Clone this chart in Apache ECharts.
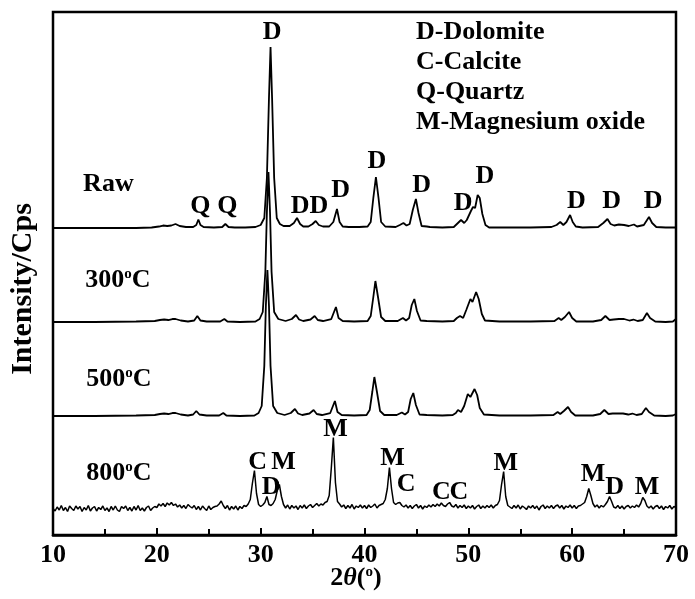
<!DOCTYPE html>
<html>
<head>
    <meta charset="utf-8">
    <title></title>
    <style type="text/css">
        body { margin: 0; background: #fff; }
        #main { width: 695px; height: 599px; }
    </style>
</head>
<body>
<div id="main"></div>

<script type="text/javascript" src="https://cdn.jsdelivr.net/npm/echarts@6/dist/echarts.min.js"></script>
<script type="text/javascript">
    // [2theta, counts], counts above each pattern's own baseline
    var xrdRaw = [
        [10,0],[12,2],[14,0],[16,2],[18,0],[19.5,5],[20.2,15],[20.6,25],[21.0,20],[21.4,25],[21.8,40],[22.2,20],
        [22.8,10],[23.5,10],[23.8,30],[24.0,85],[24.2,30],[24.5,10],[25.5,5],[26.3,10],[26.6,40],[26.9,10],
        [27.5,5],[28.5,5],[29.5,10],[30.0,30],[30.35,100],[30.6,500],[30.8,1300],[30.95,1810],[31.1,1300],
        [31.3,500],[31.55,100],[31.85,40],[32.2,20],[32.8,20],[33.2,50],[33.5,100],[33.8,40],[34.1,15],
        [34.6,15],[35.0,40],[35.3,70],[35.6,30],[36.0,15],[36.6,15],[37.0,60],[37.35,190],[37.6,60],[37.9,15],
        [38.5,10],[39.5,10],[40.3,15],[40.6,60],[40.85,300],[41.1,510],[41.35,300],[41.6,60],[42.0,15],
        [43.0,10],[43.4,30],[43.75,50],[44.05,25],[44.35,40],[44.65,180],[44.95,290],[45.2,150],[45.5,20],
        [46.0,15],[46.3,10],[47.5,5],[48.6,10],[49.0,50],[49.3,80],[49.6,50],[49.85,80],[50.25,170],[50.45,210],
        [50.65,200],[50.9,330],[51.1,300],[51.35,140],[51.65,30],[52.0,5],[54,5],[56,5],[58.0,10],[58.5,30],
        [58.85,60],[59.15,30],[59.45,60],[59.8,130],[60.05,60],[60.35,15],[61.0,5],[62.5,10],[63.0,50],
        [63.4,90],[63.7,40],[64.05,25],[64.5,35],[65.0,30],[65.45,20],[65.95,35],[66.25,15],[66.9,30],
        [67.4,110],[67.7,50],[68.1,10],[69.0,5],[70,5]
    ];
    var xrd300 = [
        [10,0],[14,0],[18,5],[19.8,10],[20.3,20],[20.7,25],[21.1,20],[21.5,30],[21.8,30],[22.3,15],[23.0,5],
        [23.6,15],[23.9,60],[24.2,15],[24.8,5],[26.1,5],[26.5,30],[26.8,5],[28,0],[29.5,5],[29.9,30],
        [30.2,100],[30.45,500],[30.6,1100],[30.75,1500],[30.9,1100],[31.05,500],[31.3,100],[31.7,30],
        [32.4,10],[33.0,30],[33.4,70],[33.7,25],[34.1,10],[34.8,25],[35.2,60],[35.5,20],[36.0,10],[36.8,30],
        [37.25,150],[37.5,40],[37.9,10],[39.0,5],[40.3,10],[40.6,60],[40.85,250],[41.05,410],[41.3,250],
        [41.6,50],[42.0,10],[43.2,10],[43.7,40],[44.0,15],[44.3,40],[44.55,170],[44.8,230],[45.05,110],
        [45.4,15],[46.0,10],[47.5,5],[48.6,10],[48.9,40],[49.2,60],[49.5,40],[49.8,120],[50.2,230],[50.4,200],
        [50.75,300],[51.0,230],[51.3,80],[51.6,15],[53,5],[56,5],[58.3,10],[58.7,40],[58.95,20],[59.3,50],
        [59.7,100],[60.0,40],[60.4,5],[62,5],[62.8,20],[63.2,60],[63.6,20],[64.0,25],[64.5,30],[65.0,30],
        [65.5,15],[65.9,25],[66.3,10],[66.8,20],[67.2,90],[67.5,40],[68.0,5],[69,0],[69.7,5],[70,30]
    ];
    var xrd500 = [
        [10,0],[14,0],[18,5],[19.8,10],[20.3,20],[20.7,25],[21.1,20],[21.5,30],[21.8,30],[22.3,15],[23.0,5],
        [23.5,15],[23.8,50],[24.1,15],[24.8,5],[26.0,5],[26.4,30],[26.7,5],[28,0],[29.4,5],[29.8,30],
        [30.1,100],[30.35,500],[30.5,1100],[30.65,1460],[30.8,1100],[30.95,500],[31.2,100],[31.6,30],
        [32.3,10],[32.9,30],[33.3,70],[33.6,25],[34.0,10],[34.7,25],[35.1,60],[35.4,20],[35.9,10],[36.7,30],
        [37.15,150],[37.4,40],[37.8,10],[39.0,5],[40.2,10],[40.5,60],[40.75,240],[40.95,390],[41.2,240],
        [41.5,50],[41.9,10],[43.1,10],[43.6,35],[43.9,15],[44.2,40],[44.45,170],[44.7,230],[44.95,110],
        [45.3,15],[46.0,10],[47.5,5],[48.5,10],[48.8,30],[49.0,60],[49.3,40],[49.6,100],[49.95,220],[50.2,190],
        [50.6,270],[50.85,210],[51.1,80],[51.5,15],[53,5],[56,5],[58.2,10],[58.6,40],[58.85,20],[59.2,50],
        [59.6,90],[59.9,40],[60.3,5],[62,5],[62.7,20],[63.1,60],[63.5,20],[63.9,25],[64.4,25],[64.9,25],
        [65.4,15],[65.8,25],[66.2,10],[66.7,20],[67.1,80],[67.4,40],[67.9,5],[69,0],[69.7,5],[70,20]
    ];
    // 800 C scan: one value every 0.2 deg from 10 to 70
    var xrd800Start = 10;
    var xrd800Step = 0.2;
    var xrd800 = [
        0,-25,15,-15,30,-20,10,-30,25,0,
        -20,25,-5,20,-30,10,-15,30,-25,5,
        20,-25,10,-10,25,-20,5,-30,20,-15,
        25,-15,-30,20,0,25,-20,10,-25,20,
        -15,30,-20,5,-25,10,25,-20,5,20,
        10,45,25,50,20,55,35,60,30,45,
        15,35,5,30,0,40,20,5,30,-10,
        20,-15,25,0,-20,25,-10,10,20,25,
        45,75,30,0,30,-15,20,-5,25,-15,
        20,0,30,20,45,90,250,380,150,40,
        20,35,60,120,40,30,50,90,180,240,
        120,40,5,35,-5,30,5,25,-10,30,
        5,35,0,25,40,10,30,50,25,45,
        35,60,70,130,400,710,260,70,45,15,
        35,0,30,5,40,-5,25,10,35,5,
        30,0,35,10,25,45,5,30,40,50,
        90,200,410,200,60,40,55,60,30,15,
        35,5,30,0,25,40,5,30,-5,25,
        10,35,15,40,20,45,25,55,30,20,
        45,60,25,15,40,5,30,10,35,0,
        25,5,30,-5,20,35,0,25,5,30,
        10,35,5,30,40,80,240,370,120,30,
        15,0,30,5,35,-5,25,10,-10,25,
        5,30,0,25,-15,20,35,0,25,5,
        30,0,25,35,5,30,-5,25,10,35,
        5,30,0,25,30,45,60,120,200,130,
        50,15,35,5,30,15,40,70,120,70,
        15,5,30,0,25,-5,20,30,5,25,
        10,35,15,50,110,80,25,5,25,-5,
        20,30,0,25,-10,20,5,30,-5,20,
        10
    ];
    // vertical offset of each pattern in the stack
    var traceOffsets = [3070, 2130, 1190, 265];
    var sampleNames = ['Raw', '300{s|o}C', '500{s|o}C', '800{s|o}C'];
    var sampleLabelPos = [[12.9, 3510], [13.1, 2550], [13.2, 1560], [13.2, 620]];

    // peak letters: [2theta, y, letter]
    var peakLabels = [
        [31.1, 5030, 'D'], [24.2, 3290, 'Q'], [26.8, 3290, 'Q'], [33.8, 3290, 'D'], [35.6, 3290, 'D'],
        [37.7, 3450, 'D'], [41.2, 3740, 'D'], [45.5, 3500, 'D'], [49.5, 3320, 'D'], [51.6, 3590, 'D'],
        [60.4, 3340, 'D'], [63.8, 3340, 'D'], [67.8, 3340, 'D'],
        [29.7, 730, 'C'], [32.2, 730, 'M'], [31.0, 480, 'D'], [37.2, 1060, 'M'], [42.7, 770, 'M'],
        [44.0, 510, 'C'], [47.4, 430, 'C'], [49.1, 430, 'C'], [53.6, 720, 'M'], [62.0, 610, 'M'],
        [64.1, 480, 'D'], [67.2, 480, 'M']
    ];
    var phaseKey = ['D-Dolomite', 'C-Calcite', 'Q-Quartz', 'M-Magnesium oxide'];

    var serif = '"Liberation Serif", "Times New Roman", serif';

    function shift(points, off) {
        return points.map(function (p) { return [p[0], p[1] + off]; });
    }
    var pts800 = xrd800.map(function (v, i) {
        return [+(xrd800Start + i * xrd800Step).toFixed(2), v];
    });
    var traces = [xrdRaw, xrd300, xrd500, pts800];

    var series = traces.map(function (t, i) {
        return {
            type: 'line',
            data: shift(t, traceOffsets[i]),
            showSymbol: false,
            silent: true,
            lineStyle: { color: '#000', width: i === 3 ? 1.5 : 1.8 }
        };
    });

    series.push({
        type: 'scatter',
        symbolSize: 0,
        silent: true,
        itemStyle: { opacity: 1, color: '#000' },
        data: peakLabels.map(function (p) { return { value: [p[0], p[1]], name: p[2] }; }),
        label: {
            show: true, position: 'inside', formatter: '{b}',
            color: '#000', textBorderWidth: 0, fontFamily: serif, fontWeight: 'bold', fontSize: 26
        }
    });

    series.push({
        type: 'scatter',
        symbolSize: 0,
        silent: true,
        itemStyle: { opacity: 1, color: '#000' },
        data: sampleLabelPos.map(function (p, i) { return { value: p, name: sampleNames[i] }; }),
        label: {
            show: true, position: 'right', distance: 0, formatter: '{b}',
            color: '#000', textBorderWidth: 0, fontFamily: serif, fontWeight: 'bold', fontSize: 26,
            rich: {
                s: { color: '#000', fontSize: 15, fontWeight: 'bold', fontFamily: serif, verticalAlign: 'top', padding: [0, 0, 10, 0] }
            }
        }
    });

    var myChart = echarts.init(document.getElementById('main'));
    myChart.setOption({
        animation: false,
        backgroundColor: '#fff',
        grid: {
            left: 53, right: 19, top: 12, bottom: 64,
            show: true, borderColor: '#000', borderWidth: 2.5
        },
        xAxis: {
            type: 'value', min: 10, max: 70, interval: 10,
            axisLine: { lineStyle: { color: '#000', width: 2.5 } },
            axisTick: { inside: true, length: 7, lineStyle: { color: '#000', width: 2 } },
            minorTick: { show: true, splitNumber: 2, length: 6, lineStyle: { color: '#000', width: 2 } },
            splitLine: { show: false },
            axisLabel: { color: '#000', fontFamily: serif, fontWeight: 'bold', fontSize: 26, margin: 7 }
        },
        yAxis: {
            type: 'value', min: 0, max: 5230,
            axisLine: { show: false }, axisTick: { show: false },
            axisLabel: { show: false }, splitLine: { show: false }
        },
        graphic: [
            {
                type: 'text', left: 416, top: 17,
                style: {
                    text: phaseKey.join('\n'), fill: '#000', font: 'bold 26px ' + serif,
                    lineHeight: 30
                }
            },
            {
                type: 'text', x: 23, y: 289, rotation: Math.PI / 2,
                style: {
                    text: 'Intensity/Cps', fill: '#000', font: 'bold 30px ' + serif,
                    align: 'center', verticalAlign: 'middle'
                }
            },
            {
                type: 'text', x: 356, y: 578,
                style: {
                    text: '{n|2}{i|θ}{n|(}{s|o}{n|)}', align: 'center', verticalAlign: 'middle',
                    rich: {
                        n: { fontFamily: serif, fontWeight: 'bold', fontSize: 26, fill: '#000' },
                        i: { fontFamily: serif, fontWeight: 'bold', fontStyle: 'italic', fontSize: 26, fill: '#000' },
                        s: { fontFamily: serif, fontWeight: 'bold', fontSize: 15, fill: '#000', verticalAlign: 'top', padding: [0, 0, 10, 0] }
                    }
                }
            }
        ],
        series: series
    });
</script>

</body>
</html>
